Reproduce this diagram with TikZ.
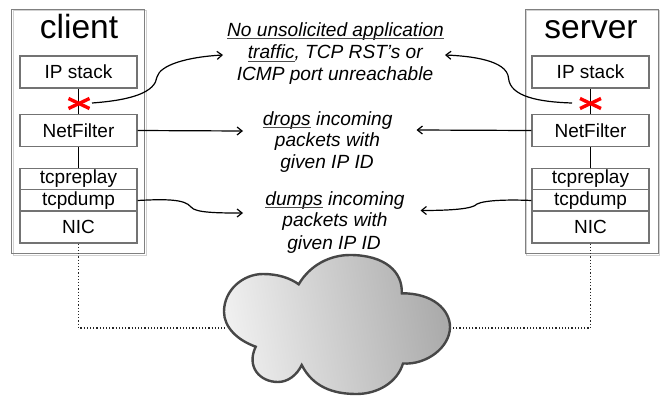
\documentclass[tikz,border=0pt]{standalone}
\usepackage{fontspec}
\setmainfont{Liberation Sans}
\usetikzlibrary{arrows.meta}
\newsavebox\ulbox
\newcommand\ulin[1]{\sbox\ulbox{#1}\rlap{\usebox\ulbox}{\color{black!70}\rule[-2.6pt]{\wd\ulbox}{0.9pt}}}
\tikzset{
  host/.style={draw=black!50,line width=0.8pt,minimum width=133pt,minimum height=244pt,inner sep=0pt},
  hostshade/.style={draw=black!18,line width=1pt,minimum width=133pt,minimum height=244pt,inner sep=0pt},
  title/.style={font=\fontsize{33.5}{36}\selectfont,inner sep=0pt,anchor=base},
  layerbox/.style={draw=black!55,line width=1.1pt,minimum width=117pt,inner sep=0pt,font=\fontsize{19}{21}\selectfont},
  link/.style={black,line width=0.8pt},
  flow/.style={black,line width=1.2pt,-{Straight Barb[length=5pt,width=8pt]}},
  wire/.style={black!85,line width=1.2pt,dotted},
  blocked/.style={red,line width=3.4pt},
  note/.style={font=\fontsize{19.1}{22}\selectfont\itshape,align=center,inner sep=0pt,anchor=base}
}
\begin{document}
\begin{tikzpicture}[x=1pt,y=-1pt]
\useasboundingbox (0,0) rectangle (660,396);
% client
\node[hostshade] (cs) at (80,133) {};
\node[host] (c) at (78,131) {};
\node[title] (ct) at (79,39) {client};
\node[layerbox,minimum height=32pt] (cip) at (78.5,72) {IP stack};
\node[layerbox,minimum height=32pt] (cnf) at (78.5,130.5) {NetFilter};
\node[layerbox,minimum height=21.5pt] (crep) at (78.5,179) {tcpreplay};
\node[layerbox,minimum height=21.5pt] (cdum) at (78.5,200.5) {tcpdump};
\node[layerbox,minimum height=32pt] (cnic) at (78.5,227) {NIC};
% server
\node[hostshade] (ss) at (593,133) {};
\node[host] (s) at (591.5,131) {};
\node[title] (st) at (591,39) {server};
\node[layerbox,minimum height=32pt] (sip) at (590.5,72) {IP stack};
\node[layerbox,minimum height=32pt] (snf) at (590.5,130.5) {NetFilter};
\node[layerbox,minimum height=21.5pt] (srep) at (590.5,179) {tcpreplay};
\node[layerbox,minimum height=21.5pt] (sdum) at (590.5,200.5) {tcpdump};
\node[layerbox,minimum height=32pt] (snic) at (590.5,227) {NIC};
% inner links
\draw[link] (cip) -- (cnf);
\draw[link] (cnf) -- (crep);
\draw[link] (sip) -- (snf);
\draw[link] (snf) -- (srep);
% crosses
\coordinate (cx) at (79,103.5);
\coordinate (sx) at (590.5,103.5);
\draw[blocked] ([shift={(-10.5,-5)}]cx) -- ([shift={(10.5,5)}]cx);
\draw[blocked] ([shift={(-10.5,5)}]cx) -- ([shift={(10.5,-5)}]cx);
\draw[blocked] ([shift={(-10.5,-5)}]sx) -- ([shift={(10.5,5)}]sx);
\draw[blocked] ([shift={(-10.5,5)}]sx) -- ([shift={(10.5,-5)}]sx);
% notes
\node[note] (n1a) at (335.5,36.7) {\ulin{No unsolicited application}};
\node[note] (n1b) at (335.3,59) {\ulin{traffic}, TCP RST's or};
\node[note] (n1c) at (335,80.7) {ICMP port unreachable};
\node[note] (n2a) at (327.7,125) {\ulin{drops} incoming};
\node[note] (n2b) at (327.5,146.7) {packets with};
\node[note] (n2c) at (327,168.3) {given IP ID};
\node[note] (n3a) at (335,205) {\ulin{dumps} incoming};
\node[note] (n3b) at (335,226.7) {packets with};
\node[note] (n3c) at (334,249) {given IP ID};
% flows
\coordinate (a1) at (223,55);
\coordinate (a2) at (445,55);
\coordinate (a3) at (243,131);
\coordinate (a4) at (416.5,130);
\coordinate (a5) at (243,213);
\coordinate (a6) at (420.5,210.5);
\coordinate (c0) at (92,103);
\coordinate (s0) at (572,103);
\draw[flow] (c0) .. controls (133,100) and (155,92) .. (157,77) .. controls (160,65) and (187,57) .. (a1);
\draw[flow] (s0) .. controls (540,102) and (510,97) .. (508.5,78) .. controls (507,60) and (470,56) .. (a2);
\draw[flow] (cnf.east) -- (a3);
\draw[flow] (snf.west) -- (a4);
\draw[flow] (cdum.east) .. controls (165,199) and (185,199) .. (191,207) .. controls (195,213) and (220,213) .. (a5);
\draw[flow] (sdum.west) .. controls (510,199.5) and (485,200) .. (477,204) .. controls (473,209) and (450,210.5) .. (a6);
% cloud
\path[draw=black!72,line width=2.4pt,left color=black!6,right color=black!33,shading angle=100] (298.7,284.3)
 .. controls (310,265) and (330,255) .. (350,255)
 .. controls (385,255) and (403,272) .. (401.7,293.3)
 .. controls (433,293) and (450,310) .. (450,327)
 .. controls (450,347) and (427,365) .. (403,363.5)
 .. controls (397,383) and (377,394) .. (356.5,394)
 .. controls (333,394) and (313,387) .. (301.7,365)
 .. controls (297,375) and (288,382) .. (278,382)
 .. controls (260,382) and (246,367) .. (255.7,346.7)
 .. controls (237,340) and (224,327) .. (224,311.7)
 .. controls (224,290) and (243,274) .. (263,274)
 .. controls (278,274) and (290,278) .. (298.7,284.3) -- cycle;
\coordinate (cl) at (225,328);
\coordinate (cr) at (452,328);
\draw[wire] (cnic.south) |- (cl);
\draw[wire] (snic.south) |- (cr);
\end{tikzpicture}
\end{document}
